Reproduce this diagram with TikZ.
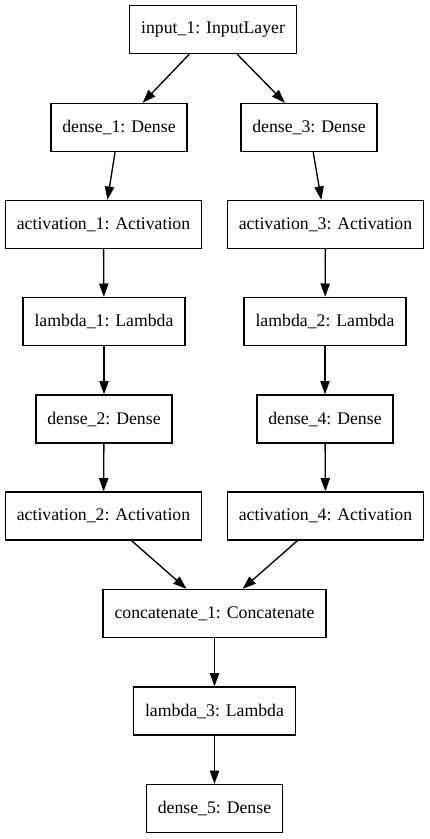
\documentclass[tikz,border=0pt]{standalone}
\usepackage{fontspec}
\setmainfont{Liberation Serif}
\usetikzlibrary{arrows.meta}

\begin{document}
\begin{tikzpicture}[x=0.75pt,y=-0.75pt,
  layer/.style={draw,line width=1pt,minimum height=36pt,inner xsep=8.6pt,font=\fontsize{13.3}{16}\selectfont},
  edge/.style={-{Triangle[length=10pt,width=7pt]},line width=1pt}]
\useasboundingbox (0,0) rectangle (429,839);
\node [layer] (input1) at (213,29.5) {input\_1: InputLayer};
\node [layer] (dense1) at (119,127.5) {dense\_1: Dense};
\node [layer] (dense3) at (309,127.5) {dense\_3: Dense};
\node [layer] (activation1) at (103.5,224.5) {activation\_1: Activation};
\node [layer] (activation3) at (325.5,224.5) {activation\_3: Activation};
\node [layer] (lambda1) at (104,321.5) {lambda\_1: Lambda};
\node [layer] (lambda2) at (325,321.5) {lambda\_2: Lambda};
\node [layer] (dense2) at (104,419) {dense\_2: Dense};
\node [layer] (dense4) at (325,419) {dense\_4: Dense};
\node [layer] (activation2) at (103.5,516) {activation\_2: Activation};
\node [layer] (activation4) at (325.5,516) {activation\_4: Activation};
\node [layer] (concatenate1) at (214.5,613.5) {concatenate\_1: Concatenate};
\node [layer] (lambda3) at (214.5,711) {lambda\_3: Lambda};
\node [layer] (dense5) at (214.5,808.5) {dense\_5: Dense};

\draw [edge] (input1) -- (dense1);
\draw [edge] (input1) -- (dense3);
\draw [edge] (dense1) -- (activation1);
\draw [edge] (dense3) -- (activation3);
\draw [edge] (activation1) -- (lambda1);
\draw [edge] (activation3) -- (lambda2);
\draw [edge] (lambda1) -- (dense2);
\draw [edge] (lambda2) -- (dense4);
\draw [edge] (dense2) -- (activation2);
\draw [edge] (dense4) -- (activation4);
\draw [edge] (activation2) -- (concatenate1);
\draw [edge] (activation4) -- (concatenate1);
\draw [edge] (concatenate1) -- (lambda3);
\draw [edge] (lambda3) -- (dense5);
\end{tikzpicture}
\end{document}
